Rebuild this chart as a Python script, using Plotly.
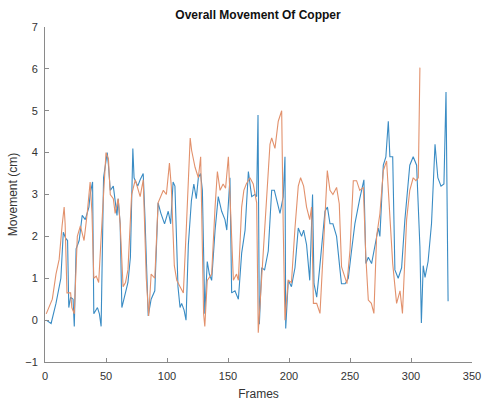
import plotly.graph_objects as go

# blue series (first trace)
frames_blue = [1, 5, 9, 13, 15, 17, 18.5, 19.5, 21, 23,
               24, 25.5, 28, 30.5, 33, 36, 37, 39, 40, 43,
               44.6, 46, 48, 51, 52, 53.5, 56, 57.5, 59, 60,
               61.6, 63, 65.7, 68, 70, 72, 73, 76, 78, 80.5,
               82, 84.6, 87, 90, 92.7, 95, 98, 101, 103, 105,
               106.5, 108, 109, 110.7, 112, 114, 115.6, 117.5, 120, 122,
               124, 125.7, 127.5, 129, 131, 133, 134.7, 136.6, 139.4, 142,
               144.8, 147.5, 149, 151.6, 153, 155.7, 158.5, 161.2, 164, 166.7,
               169.4, 172, 173.5, 174.6, 175.7, 177.6, 180, 183, 185.8, 188,
               190, 192.6, 195.3, 196.7, 197.3, 199.4, 202, 204.9, 207.6, 210.3,
               212, 214.4, 217, 219.3, 220.5, 222.7, 225, 226.8, 229.5, 231.5,
               233.6, 236, 239, 241.8, 243, 246, 248.6, 251.3, 254, 258,
               259.5, 261.4, 263, 265, 267.7, 270.4, 273.2, 274.5, 277.3, 279.4,
               281.4, 282.7, 285, 286.8, 289.5, 292.3, 295, 299, 301.8, 304.6,
               307.3, 308.5, 310, 311.5, 314, 316.8, 319.7, 322, 324.6, 327,
               328.7, 330.4]
movement_blue = [0.0, -0.08, 0.4, 1.0, 2.1, 1.95, 1.9, 0.3, 0.55, 0.5,
                 -0.15, 1.7, 1.9, 2.5, 2.4, 2.7, 3.0, 3.3, 0.15, 0.3,
                 0.15, -0.15, 3.4, 4.0, 3.7, 3.1, 3.2, 2.9, 2.5, 2.9,
                 2.3, 0.3, 0.65, 0.9, 1.5, 4.1, 3.4, 3.2, 3.35, 3.5,
                 2.4, 0.1, 0.5, 0.7, 2.8, 2.55, 2.3, 2.6, 2.3, 3.3,
                 3.2, 1.35, 0.8, 0.3, 0.4, 0.24, 0.0, 1.8, 2.85, 3.25,
                 2.9, 3.4, 3.5, 3.1, 0.15, 1.4, 1.1, 0.95, 2.15, 2.95,
                 2.6, 2.4, 2.15, 3.4, 0.65, 0.7, 0.5, 1.6, 2.15, 3.55,
                 2.95, 3.0, 2.95, 4.9, -0.1, 1.25, 1.2, 1.65, 3.1, 3.1,
                 2.85, 2.55, 2.95, 3.9, -0.2, 0.95, 0.8, 1.25, 2.2, 2.0,
                 2.15, 1.8, 0.95, 3.0, 0.87, 0.55, 1.2, 1.8, 2.6, 2.7,
                 2.3, 2.3, 2.0, 1.2, 0.87, 0.87, 1.0, 1.67, 2.3, 2.9,
                 3.1, 3.35, 1.35, 1.5, 1.35, 1.8, 2.2, 2.0, 3.7, 3.9,
                 4.75, 3.9, 3.9, 1.2, 1.0, 1.25, 2.4, 3.7, 3.9, 3.7,
                 1.75, -0.07, 1.3, 1.02, 1.4, 2.3, 4.2, 3.4, 3.2, 3.25,
                 5.45, 0.45]

# orange series (second trace)
frames_orange = [1, 6, 9, 11.6, 14, 15.7, 16.5, 18, 21, 22,
                 24, 26.5, 29, 32, 34.6, 37, 38.5, 40, 42, 44,
                 47, 50, 52, 53.5, 56, 57.5, 60, 61.6, 64, 66,
                 68, 71, 74, 78, 80.5, 83, 85, 87, 90, 92.7,
                 97, 99.5, 102, 103.5, 106, 108, 110.7, 113.4, 116, 119,
                 120.2, 123, 125.7, 127.6, 130, 131, 133, 136.6, 139.4, 141.3,
                 143.5, 146, 148, 150.3, 152, 154.4, 157, 158.5, 161.2, 163,
                 165, 168, 170.7, 173.5, 174.8, 178, 181, 184.4, 185.8, 188.5,
                 191.2, 194, 195.3, 196.7, 199.4, 202, 204.9, 207.6, 209.5, 212,
                 214.4, 217, 218.5, 220, 222.7, 225.4, 228.1, 231.4, 233.6, 236,
                 239, 241.2, 243.1, 246, 247.5, 250, 252.7, 255.4, 258, 260.9,
                 263, 265, 267.5, 269.6, 271.8, 274.5, 277.3, 280, 282.7, 285,
                 288.2, 291, 293, 296.4, 299, 301.8, 304, 306, 307.3]
movement_orange = [0.15, 0.5, 1.1, 1.45, 2.25, 2.7, 2.3, 0.65, 0.65, 0.3,
                   0.15, 2.0, 2.25, 1.9, 2.55, 3.3, 2.55, 1.0, 1.05, 0.9,
                   2.5, 4.0, 3.85, 3.0, 2.9, 2.55, 2.9, 2.3, 0.8, 0.9,
                   1.2, 3.0, 3.35, 2.95, 3.35, 1.0, 0.1, 1.1, 1.0, 2.8,
                   3.1, 3.0, 3.75, 3.2, 1.3, 0.95, 0.8, 0.65, 2.3, 4.35,
                   4.05, 3.65, 3.4, 3.9, 0.15, -0.15, 0.95, 1.1, 2.7, 3.55,
                   3.1, 3.25, 3.15, 3.9, 2.7, 0.95, 1.1, 0.95, 2.7, 3.1,
                   3.25, 3.4, 3.25, 2.8, -0.3, 1.3, 2.6, 4.2, 4.35, 4.1,
                   4.75, 5.0, 2.15, 0.0, 0.95, 0.9, 2.2, 3.2, 3.4, 3.2,
                   2.7, 2.4, 2.7, 0.4, 0.4, 0.16, 1.67, 3.57, 3.1, 3.0,
                   3.17, 2.78, 1.27, 1.0, 0.87, 1.67, 3.33, 3.33, 3.1, 3.17,
                   1.5, 0.48, 0.4, 0.16, 2.0, 2.54, 3.57, 3.8, 2.54, 1.35,
                   0.4, 0.7, 0.16, 2.4, 3.1, 3.4, 3.33, 3.4, 6.03]

fig = go.Figure()
fig.add_trace(go.Scatter(x=frames_blue, y=movement_blue, mode='lines',
                         line=dict(color='#3a8cc4', width=1.1)))
fig.add_trace(go.Scatter(x=frames_orange, y=movement_orange, mode='lines',
                         line=dict(color='#e2916c', width=1.1)))

font = 'Liberation Sans, Arial'
axis_style = dict(showgrid=False, zeroline=False, showline=True, linecolor='#8a8a8a',
                  linewidth=1, ticks='inside', ticklen=4, tickcolor='#8a8a8a',
                  automargin=False, ticklabelstandoff=4,
                  tickfont=dict(family=font, size=11, color='#333333'))

fig.update_layout(
    width=485, height=409,
    margin=dict(l=45, r=13, t=27, b=47),
    paper_bgcolor='white', plot_bgcolor='white',
    showlegend=False,
    title=dict(text='<b>Overall Movement Of Copper</b>', x=0.532, xanchor='center',
               y=0.963, yanchor='middle', font=dict(family=font, size=12, color='#111111')),
)
fig.update_xaxes(range=[0, 350], dtick=50,
                 title=dict(text='Frames', standoff=8, font=dict(family=font, size=12, color='#333333')),
                 **axis_style)
fig.update_yaxes(range=[-1, 7], dtick=1,
                 title=dict(text='Movement (cm)', standoff=5, font=dict(family=font, size=12, color='#333333')),
                 **axis_style)

# drop the browser's default body margin so the figure fills the window exactly
fig.write_html("out.html", config={'displayModeBar': False},
               post_script="document.body.style.margin='0';")
